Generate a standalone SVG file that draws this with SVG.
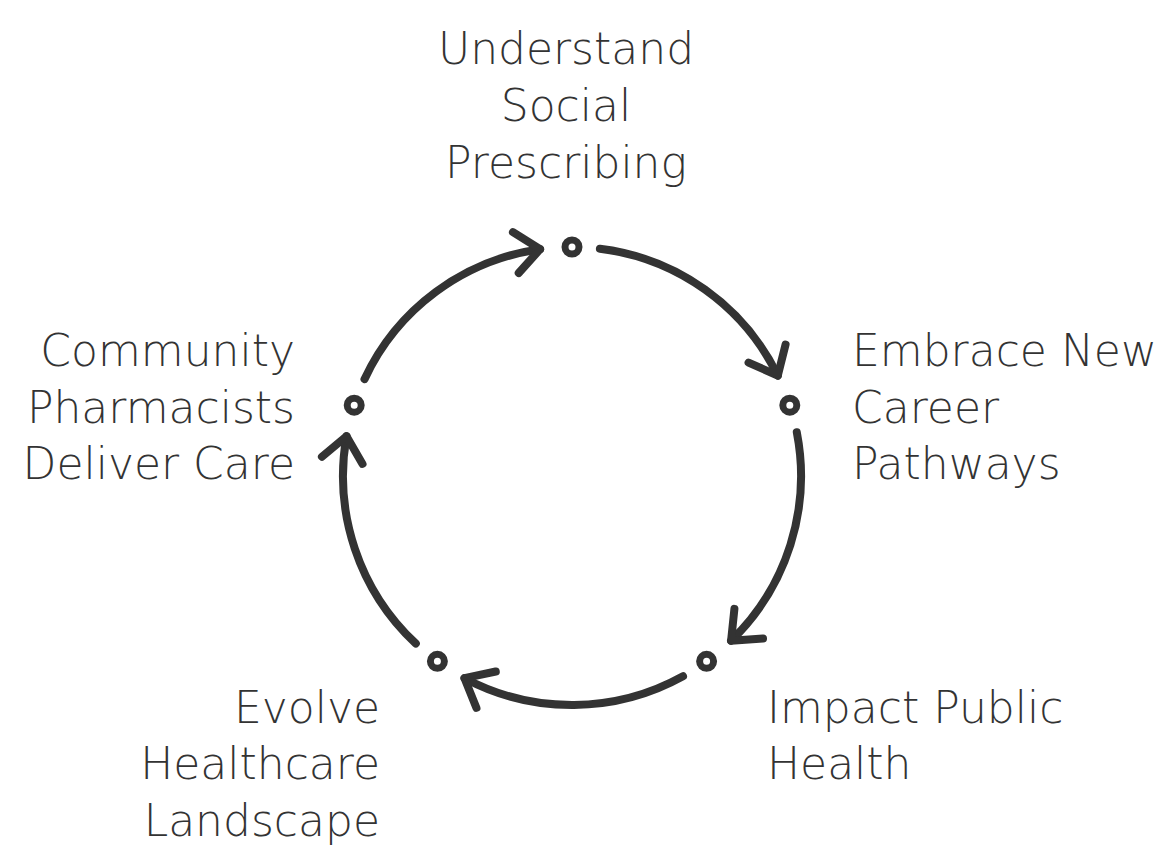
<svg xmlns="http://www.w3.org/2000/svg" width="1173" height="845" viewBox="0 0 1173 845">
  <style>
    .lbl { font-family: "DejaVu Sans", "Liberation Sans", sans-serif; font-size: 44px; font-weight: 200; fill: #333333; }
    .ring { fill: none; stroke: #333333; stroke-width: 7; }
    .arc { fill: none; stroke: #333333; stroke-width: 8; stroke-linecap: round; marker-end: url(#head); }
  </style>
  <defs>
    <marker id="head" markerUnits="userSpaceOnUse" viewBox="-40 -40 80 80" markerWidth="80" markerHeight="80" refX="0" refY="0" orient="auto" overflow="visible">
      <path d="M -24.5 -20.6 L 0 0 L -24.5 20.6" fill="none" stroke="#333333" stroke-width="8" stroke-linecap="round" stroke-linejoin="round"/>
    </marker>
  </defs>
  <rect width="1173" height="845" fill="#ffffff"/>

  <g id="connectors">
    <path class="arc" d="M 599.9 248.7 A 229 229 0 0 1 777.8 375.6"/>
    <path class="arc" d="M 796.8 432.3 A 229 229 0 0 1 731.1 640.7"/>
    <path class="arc" d="M 683.0 676.3 A 229 229 0 0 1 464.5 678.2"/>
    <path class="arc" d="M 415.8 643.5 A 229 229 0 0 1 346.5 436.2"/>
    <path class="arc" d="M 364.5 379.2 A 229 229 0 0 1 540.1 249.2"/>
  </g>

  <g id="node-understand">
    <circle class="ring" cx="572" cy="247" r="7"/>
    <text class="lbl" text-anchor="middle"><tspan x="566" y="64">Understand</tspan><tspan x="566" y="121">Social</tspan><tspan x="566" y="178">Prescribing</tspan></text>
  </g>
  <g id="node-embrace">
    <circle class="ring" cx="789.8" cy="405.2" r="7"/>
    <text class="lbl" text-anchor="start"><tspan x="852" y="366">Embrace New</tspan><tspan x="852" y="423">Career</tspan><tspan x="852" y="479">Pathways</tspan></text>
  </g>
  <g id="node-impact">
    <circle class="ring" cx="706.6" cy="661.3" r="7"/>
    <text class="lbl" text-anchor="start"><tspan x="767" y="723">Impact Public</tspan><tspan x="767" y="779">Health</tspan></text>
  </g>
  <g id="node-evolve">
    <circle class="ring" cx="437.4" cy="661.3" r="7"/>
    <text class="lbl" text-anchor="end"><tspan x="380" y="723">Evolve</tspan><tspan x="380" y="779">Healthcare</tspan><tspan x="380" y="836">Landscape</tspan></text>
  </g>
  <g id="node-community">
    <circle class="ring" cx="354.2" cy="405.2" r="7"/>
    <text class="lbl" text-anchor="end"><tspan x="295" y="366">Community</tspan><tspan x="295" y="423">Pharmacists</tspan><tspan x="295" y="479">Deliver Care</tspan></text>
  </g>
</svg>
